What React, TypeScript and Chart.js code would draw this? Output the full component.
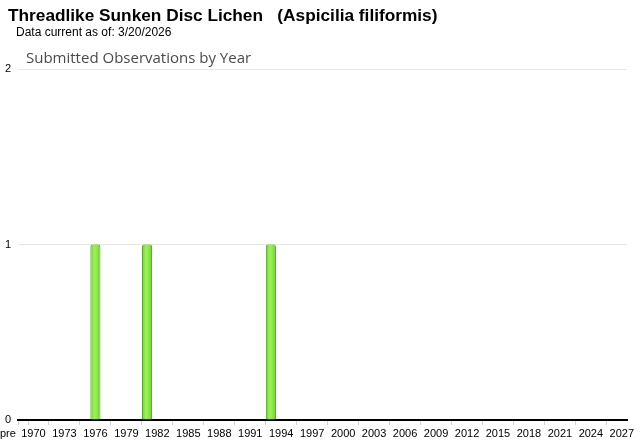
import React, { useEffect, useRef } from "react";
import { Chart, registerables } from "chart.js";

Chart.register(...registerables);

const categories: string[] = [
  "pre", "1970", "1971", "1972", "1973", "1974", "1975", "1976", "1977", "1978", "1979",
  "1980", "1981", "1982", "1983", "1984", "1985", "1986", "1987", "1988", "1989",
  "1990", "1991", "1992", "1993", "1994", "1995", "1996", "1997", "1998", "1999",
  "2000", "2001", "2002", "2003", "2004", "2005", "2006", "2007", "2008", "2009",
  "2010", "2011", "2012", "2013", "2014", "2015", "2016", "2017", "2018", "2019",
  "2020", "2021", "2022", "2023", "2024", "2025", "2026", "2027",
];

const observations: number[] = [
  0, 0, 0, 0, 0, 0, 0, 1, 0, 0, 0,
  0, 1, 0, 0, 0, 0, 0, 0, 0, 0,
  0, 0, 0, 1, 0, 0, 0, 0, 0, 0,
  0, 0, 0, 0, 0, 0, 0, 0, 0, 0,
  0, 0, 0, 0, 0, 0, 0, 0, 0, 0,
  0, 0, 0, 0, 0, 0, 0, 0,
];

const shownTickLabels: string[] = [
  "pre", "1970", "1973", "1976", "1979", "1982", "1985", "1988", "1991", "1994",
  "1997", "2000", "2003", "2006", "2009", "2012", "2015", "2018", "2021", "2024", "2027",
];

const yTicks: number[] = [0, 1, 2];

const titleText = "Threadlike Sunken Disc Lichen   (Aspicilia filiformis)";
const dateText = "Data current as of: 3/20/2026";
const subtitleText = "Submitted Observations by Year";

export default function App() {
  const ref = useRef<HTMLCanvasElement | null>(null);

  useEffect(() => {
    document.body.style.margin = "0";
    const canvas = ref.current;
    if (!canvas) return;
    const chart = new Chart(canvas, {
      type: "bar",
      data: {
        labels: categories,
        datasets: [
          {
            data: observations,
            backgroundColor: (c: any) => {
              const ch = c.chart;
              const xs = ch.scales && ch.scales.x;
              if (!xs || c.dataIndex === undefined) return "#86e040";
              const cx = xs.getPixelForValue(c.dataIndex);
              if (!Number.isFinite(cx)) return "#86e040";
              const g = ch.ctx.createLinearGradient(cx - 5, 0, cx + 5, 0);
              g.addColorStop(0, "#6ad22a");
              g.addColorStop(0.4, "#9ff05e");
              g.addColorStop(0.6, "#90ea4c");
              g.addColorStop(1, "#6ad22a");
              return g;
            },
            borderColor: "#4ea519",
            borderWidth: 1,
            borderRadius: { topLeft: 2, topRight: 2, bottomLeft: 0, bottomRight: 0 },
            borderSkipped: "bottom",
            barPercentage: 1,
            categoryPercentage: 0.98,
          },
        ],
      },
      options: {
        animation: false,
        responsive: false,
        maintainAspectRatio: false,
        layout: { padding: { top: 69, right: 13, left: 0, bottom: 0 } },
        plugins: {
          legend: { display: false },
          tooltip: { enabled: false },
          title: { display: false },
        },
        scales: {
          x: {
            grid: {
              display: true,
              drawOnChartArea: false,
              drawTicks: true,
              tickLength: 5,
              color: "#d0d0d0",
            },
            border: { display: true, color: "#000000", width: 2 },
            ticks: {
              autoSkip: false,
              maxRotation: 0,
              minRotation: 0,
              padding: 2,
              color: "#000000",
              font: { family: "Liberation Sans, Arial, sans-serif", size: 11 },
              callback: (v: any, i: number) => {
                const lab = categories[i];
                if (shownTickLabels.indexOf(lab) < 0) return null;
                if (lab === "pre") return "pre          ";
                return lab;
              },
            },
            afterFit: (s: any) => {
              s.height = 22;
              s.paddingLeft = 0;
              s.paddingRight = 0;
            },
          },
          y: {
            min: yTicks[0],
            max: yTicks[yTicks.length - 1],
            grid: { color: "#e6e6e6", drawTicks: false },
            border: { display: false },
            ticks: {
              stepSize: 1,
              padding: 7,
              color: "#000000",
              font: { family: "Liberation Sans, Arial, sans-serif", size: 11 },
            },
            afterFit: (s: any) => {
              s.width = 18;
              s.paddingTop = 0;
              s.paddingBottom = 0;
            },
          },
        },
      },
    });
    return () => chart.destroy();
  }, []);

  return (
    <div style={{ position: "relative", width: 640, height: 442, background: "#ffffff" }}>
      <canvas ref={ref} width={640} height={442} style={{ position: "absolute", left: 0, top: 0 }} />
      <div
        style={{
          position: "absolute",
          left: 8,
          top: 5,
          fontFamily: "Liberation Sans, Arial, sans-serif",
          fontWeight: "bold",
          fontSize: 17.25,
          lineHeight: "20px",
          whiteSpace: "pre",
          color: "#000",
        }}
      >
        {titleText}
      </div>
      <div
        style={{
          position: "absolute",
          left: 16,
          top: 25,
          fontFamily: "Liberation Sans, Arial, sans-serif",
          fontSize: 12,
          lineHeight: "14px",
          whiteSpace: "pre",
          color: "#000",
        }}
      >
        {dateText}
      </div>
      <div
        style={{
          position: "absolute",
          left: 26,
          top: 47,
          fontFamily: "Open Sans, sans-serif",
          fontSize: 15,
          lineHeight: "20px",
          whiteSpace: "pre",
          color: "#4a4a4a",
        }}
      >
        {subtitleText}
      </div>
    </div>
  );
}
